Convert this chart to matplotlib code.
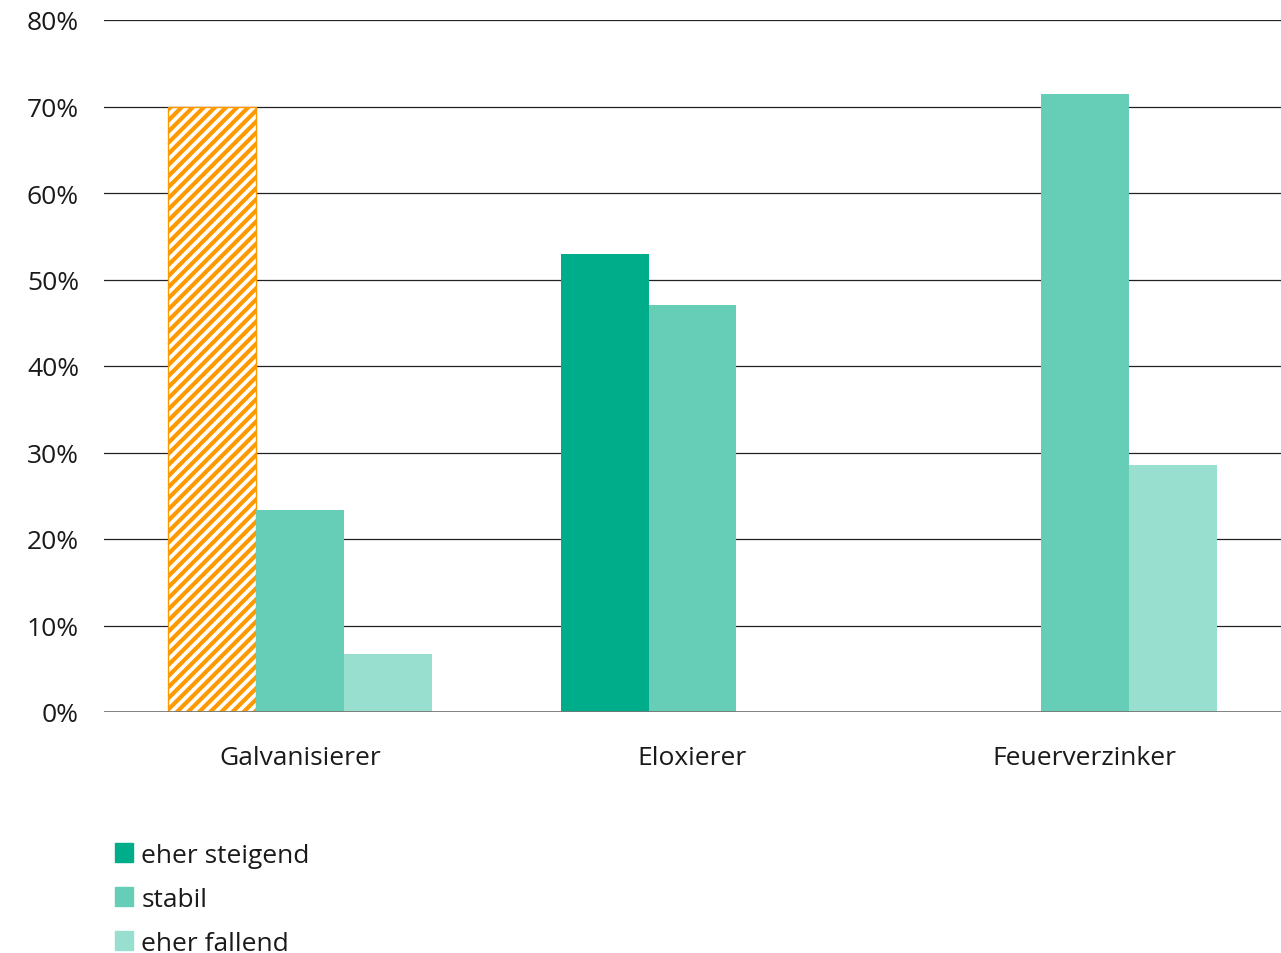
import numpy as np
import matplotlib.pyplot as plt
from matplotlib.patches import Patch

plt.rcParams['font.family'] = ['Open Sans', 'DejaVu Sans']
plt.rcParams['hatch.linewidth'] = 3.0

categories = ["Galvanisierer", "Eloxierer", "Feuerverzinker"]
series_names = ["eher steigend", "stabil", "eher fallend"]
steigend = [70.0, 52.9, 0.0]
stabil = [23.3, 47.1, 71.4]
fallend = [6.7, 0.0, 28.6]
yticks = [0, 10, 20, 30, 40, 50, 60, 70, 80]

COLORS = ["#00ad8a", "#66cdb7", "#99dfd0"]
ORANGE = "#ff9900"
TXT = "#1a1a1a"

fig = plt.figure(figsize=(12.81, 9.54), dpi=100)
ax = fig.add_axes([104 / 1281, 1 - 713 / 954, 1 - 104 / 1281, (713 - 21) / 954])

x = np.arange(len(categories))
w = 0.224
values = [steigend, stabil, fallend]
for i, vals in enumerate(values):
    ax.bar(x + (i - 1) * w, vals, w, color=COLORS[i], zorder=3)

# the first Galvanisierer bar is drawn hatched in orange
hb = ax.patches[0]
hb.set_facecolor("white")
hb.set_edgecolor(ORANGE)
hb.set_hatch("///")
hb.set_linewidth(1.0)

ax.set_xlim(-0.5, 2.5)
ax.set_ylim(0, 80)
ax.set_yticks(yticks)
ax.set_yticklabels([f"{t}%" for t in yticks])
ax.set_xticks(x)
ax.set_xticklabels(categories)
ax.tick_params(axis="both", length=0, labelsize=19, colors=TXT)
ax.tick_params(axis="y", pad=18)
ax.tick_params(axis="x", pad=24)
for t in yticks[1:]:
    ax.axhline(t, color="#222222", lw=0.9, zorder=1)
ax.axhline(0, color="#777777", lw=2.0, zorder=4)
for s in ax.spines.values():
    s.set_visible(False)

handles = [Patch(color=c, label=n) for c, n in zip(COLORS, series_names)]
fig.legend(handles=handles, loc="upper left", bbox_to_anchor=(91 / 1281, 1 - 820 / 954),
           frameon=False, fontsize=19, handlelength=0.7, handleheight=0.7,
           handletextpad=0.3, labelspacing=0.72, labelcolor=TXT)

fig.savefig("out.png", dpi=100)
